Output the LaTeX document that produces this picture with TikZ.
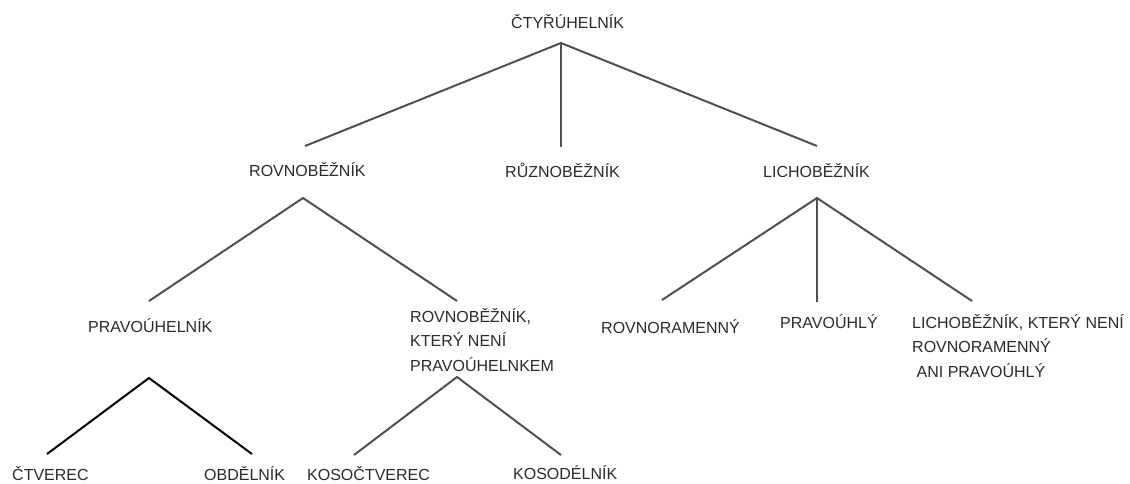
\documentclass[tikz,border=0pt]{standalone}
\usepackage{fontspec}
\setmainfont{Liberation Sans}
\definecolor{txt}{HTML}{2B2B2B}
\definecolor{ln}{HTML}{505050}
\begin{document}
\begin{tikzpicture}[x=1pt,y=-1pt,
  lab/.style={anchor=base west,inner sep=0pt,text=txt,font=\fontsize{16}{24.5}\selectfont},
  conn/.style={draw=ln,line width=2pt},
  blk/.style={draw=black,line width=2pt}]
\useasboundingbox[fill=white] (0,0) rectangle (1130,483);
% labels
\node[lab] (ctyr) at (511,28) {ČTYŘÚHELNÍK};
\node[lab] (rovn) at (249,176) {ROVNOBĚŽNÍK};
\node[lab] (ruzn) at (505,177) {RŮZNOBĚŽNÍK};
\node[lab] (lich) at (763,177) {LICHOBĚŽNÍK};
\node[lab] (prav) at (88,332) {PRAVOÚHELNÍK};
\node[lab] (rnp) at (410,322) {\vtop{\baselineskip=24.5pt\hbox{ROVNOBĚŽNÍK,}\hbox{KTERÝ NENÍ}\hbox{PRAVOÚHELNKEM}}};
\node[lab] (rovram) at (601,333) {ROVNORAMENNÝ};
\node[lab] (pravu) at (780,328) {PRAVOÚHLÝ};
\node[lab] (lichn) at (912,328) {\vtop{\baselineskip=24.5pt\hbox{LICHOBĚŽNÍK, KTERÝ NENÍ}\hbox{ROVNORAMENNÝ}\hbox{ ANI PRAVOÚHLÝ}}};
\node[lab] (ctv) at (12,480) {ČTVEREC};
\node[lab] (obd) at (204,480) {OBDĚLNÍK};
\node[lab] (kosoc) at (307,480) {KOSOČTVEREC};
\node[lab] (kosod) at (513,479) {KOSODÉLNÍK};
% connector points
\coordinate (t0) at (561,43);
\coordinate (t1) at (305,146);
\coordinate (t2) at (561,147);
\coordinate (t3) at (817,146);
\coordinate (r0) at (303,198);
\coordinate (r1) at (149,301);
\coordinate (r2) at (457,301);
\coordinate (l0) at (817,198);
\coordinate (l1) at (662,300);
\coordinate (l2) at (817,302);
\coordinate (l3) at (972,301);
\coordinate (p0) at (149,378);
\coordinate (p1) at (47,454);
\coordinate (p2) at (252,454);
\coordinate (n0) at (457,377);
\coordinate (n1) at (354,455);
\coordinate (n2) at (561,455);
% connectors
\draw[conn,line join=miter] (t1) -- (t0) -- (t3);
\draw[conn] (t0) -- (t2);
\draw[conn] (r1) -- (r0) -- (r2);
\draw[conn] (l1) -- (l0) -- (l3);
\draw[conn] (l0) -- (l2);
\draw[blk] (p1) -- (p0) -- (p2);
\draw[conn] (n1) -- (n0) -- (n2);
\end{tikzpicture}
\end{document}
